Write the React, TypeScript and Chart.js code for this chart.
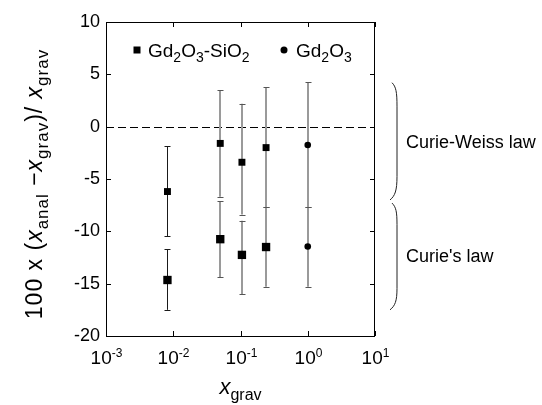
import React, { useEffect, useRef } from 'react';
import { Chart, registerables } from 'chart.js';

Chart.register(...registerables);

const FONT = '"Liberation Sans", Arial, Helvetica, sans-serif';

// ---- data ----
const siO2X = [0.0082, 0.05, 0.105, 0.24];
const siO2CurieWeiss = [-6.2, -1.6, -3.4, -2.0];
const siO2CurieWeissHigh = [-1.85, 3.5, 2.2, 3.8];
const siO2CurieWeissLow = [-10.45, -6.7, -8.4, -7.7];
const siO2Curie = [-14.65, -10.75, -12.25, -11.5];
const siO2CurieHigh = [-11.7, -7.1, -9.0, -7.7];
const siO2CurieLow = [-17.5, -14.4, -16.0, -15.3];

const gdX = [1.0];
const gdCurieWeiss = [-1.75];
const gdCurieWeissHigh = [4.25];
const gdCurieWeissLow = [-7.7];
const gdCurie = [-11.45];
const gdCurieHigh = [-7.7];
const gdCurieLow = [-15.3];

const xTickExponents = [-3, -2, -1, 0, 1];
const yTickValues = [-20, -15, -10, -5, 0, 5, 10];

// brace ranges on the y axis (data units) and their labels
const braceRanges = [
  [4.2, -7.0],
  [-7.3, -17.5],
];
const braceLabels = ['Curie-Weiss law', "Curie's law"];
const braceLabelY = [-1.6, -12.5];

const toPoints = (xs: number[], ys: number[]) => xs.map((x, i) => ({ x, y: ys[i] }));

type Seg = { t: string; k: 'n' | 'i' | 'sub' };

function drawSegs(ctx: CanvasRenderingContext2D, segs: Seg[], x: number, y: number, main: number, sub: number, subDy: number, align: 'left' | 'center') {
  const fontOf = (k: Seg['k']) =>
    k === 'i' ? `italic ${main}px ${FONT}` : k === 'sub' ? `${sub}px ${FONT}` : `${main}px ${FONT}`;
  let total = 0;
  const widths = segs.map((s) => {
    ctx.font = fontOf(s.k);
    const w = ctx.measureText(s.t).width;
    total += w;
    return w;
  });
  let cx = align === 'center' ? x - total / 2 : x;
  ctx.textAlign = 'left';
  ctx.textBaseline = 'alphabetic';
  segs.forEach((s, i) => {
    ctx.font = fontOf(s.k);
    ctx.fillText(s.t, cx, s.k === 'sub' ? y + subDy : y);
    cx += widths[i];
  });
  return total;
}

const decorPlugin = {
  id: 'decor',
  beforeDatasetsDraw(chart: any) {
    const { ctx, chartArea } = chart;
    const xs = chart.scales.x;
    const ys = chart.scales.y;
    ctx.save();
    // dashed zero line
    const y0 = Math.round(ys.getPixelForValue(0)) + 0.5;
    ctx.strokeStyle = '#000';
    ctx.lineWidth = 1;
    ctx.setLineDash([8, 4]);
    ctx.beginPath();
    ctx.moveTo(chartArea.left, y0);
    ctx.lineTo(chartArea.right, y0);
    ctx.stroke();
    ctx.setLineDash([]);
    // error bars
    chart.data.datasets.forEach((ds: any) => {
      ds.data.forEach((p: any, i: number) => {
        const px = Math.round(xs.getPixelForValue(p.x));
        const yh = ys.getPixelForValue(ds.errHigh[i]);
        const yl = ys.getPixelForValue(ds.errLow[i]);
        const dark = ds.darkFirst && i === 0;
        ctx.strokeStyle = dark ? '#1a1a1a' : '#9a9a9a';
        ctx.lineWidth = dark ? 1 : 2;
        const lx = dark ? px + 0.5 : px;
        ctx.beginPath();
        ctx.moveTo(lx, yh);
        ctx.lineTo(lx, yl);
        ctx.stroke();
        ctx.strokeStyle = dark ? '#1a1a1a' : '#555';
        ctx.lineWidth = 1;
        [yh, yl].forEach((yy) => {
          const y = Math.round(yy) + 0.5;
          ctx.beginPath();
          ctx.moveTo(px - 2.5, y);
          ctx.lineTo(px + 3.5, y);
          ctx.stroke();
        });
      });
    });
    ctx.restore();
  },
  afterDraw(chart: any) {
    const { ctx, chartArea } = chart;
    const xs = chart.scales.x;
    const ys = chart.scales.y;
    const L = chartArea.left, R = chartArea.right, T = chartArea.top, B = chartArea.bottom;
    ctx.save();
    ctx.fillStyle = '#000';
    ctx.strokeStyle = '#000';
    ctx.lineWidth = 1;
    // frame
    ctx.strokeRect(Math.round(L) + 0.5, Math.round(T) + 0.5, Math.round(R - L) - 1, Math.round(B - T));
    // y ticks (inward, both sides)
    yTickValues.forEach((v) => {
      const y = Math.round(ys.getPixelForValue(v)) + 0.5;
      ctx.beginPath();
      ctx.moveTo(L, y);
      ctx.lineTo(L + 5, y);
      ctx.moveTo(R - 5, y);
      ctx.lineTo(R, y);
      ctx.stroke();
    });
    // x ticks + labels
    xTickExponents.forEach((e) => {
      const x = Math.round(xs.getPixelForValue(Math.pow(10, e))) + 0.5;
      ctx.beginPath();
      ctx.moveTo(x, T);
      ctx.lineTo(x, T + 5);
      ctx.moveTo(x, B - 5);
      ctx.lineTo(x, B);
      ctx.stroke();
      ctx.font = `19px ${FONT}`;
      const wb = ctx.measureText('10').width;
      ctx.font = `12px ${FONT}`;
      const sup = String(e);
      const ws = ctx.measureText(sup).width;
      const sx = x - (wb + ws) / 2;
      ctx.textAlign = 'left';
      ctx.textBaseline = 'alphabetic';
      ctx.font = `19px ${FONT}`;
      ctx.fillText('10', sx, 364);
      ctx.font = `12px ${FONT}`;
      ctx.fillText(sup, sx + wb, 357);
    });
    // x title
    drawSegs(ctx, [{ t: 'x', k: 'i' }, { t: 'grav', k: 'sub' }], (L + R) / 2, 394, 22, 16, 6, 'center');
    // y title (rotated)
    ctx.save();
    ctx.translate(42, 184);
    ctx.rotate(-Math.PI / 2);
    (ctx as any).letterSpacing = '1px';
    drawSegs(
      ctx,
      [
        { t: '100 x (', k: 'n' },
        { t: 'x', k: 'i' },
        { t: 'anal', k: 'sub' },
        { t: ' \u2212', k: 'n' },
        { t: 'x', k: 'i' },
        { t: 'grav', k: 'sub' },
        { t: ')/ ', k: 'n' },
        { t: 'x', k: 'i' },
        { t: 'grav', k: 'sub' },
      ],
      0,
      0,
      23,
      17,
      6,
      'center'
    );
    (ctx as any).letterSpacing = '0px';
    ctx.restore();
    // legend
    const ly = 50;
    ctx.fillStyle = '#000';
    ctx.fillRect(133.5, ly - 3.5, 7, 7);
    drawSegs(
      ctx,
      [
        { t: 'Gd', k: 'n' },
        { t: '2', k: 'sub' },
        { t: 'O', k: 'n' },
        { t: '3', k: 'sub' },
        { t: '-SiO', k: 'n' },
        { t: '2', k: 'sub' },
      ],
      148,
      57,
      19,
      14,
      5,
      'left'
    );
    ctx.beginPath();
    ctx.arc(284, ly, 3.5, 0, Math.PI * 2);
    ctx.fill();
    drawSegs(
      ctx,
      [
        { t: 'Gd', k: 'n' },
        { t: '2', k: 'sub' },
        { t: 'O', k: 'n' },
        { t: '3', k: 'sub' },
      ],
      296,
      57,
      19,
      14,
      5,
      'left'
    );
    // braces
    ctx.strokeStyle = '#222';
    ctx.lineWidth = 1;
    braceRanges.forEach(([a, b], i) => {
      const yt = ys.getPixelForValue(a);
      const yb = ys.getPixelForValue(b);
      const xe = R + 16;
      const xm = R + 22;
      const h = yb - yt;
      ctx.beginPath();
      ctx.moveTo(xe + 1, yt);
      ctx.bezierCurveTo(xe + 5, yt + 4, xm, yt + h * 0.08, xm, yt + h * 0.2);
      ctx.lineTo(xm, yt + h * 0.8);
      ctx.bezierCurveTo(xm, yb - h * 0.08, xe + 4, yb - 4, xe - 1, yb);
      ctx.stroke();
      ctx.font = `18px ${FONT}`;
      ctx.textAlign = 'left';
      ctx.textBaseline = 'middle';
      ctx.fillStyle = '#000';
      ctx.fillText(braceLabels[i], R + 31, ys.getPixelForValue(braceLabelY[i]));
    });
    ctx.restore();
  },
};

export default function App() {
  const ref = useRef<HTMLCanvasElement | null>(null);
  useEffect(() => {
    if (!ref.current) return;
    const chart = new Chart(ref.current, {
      type: 'scatter',
      data: {
        datasets: [
          {
            label: 'Gd2O3-SiO2',
            data: toPoints(siO2X, siO2CurieWeiss),
            errHigh: siO2CurieWeissHigh,
            errLow: siO2CurieWeissLow,
            darkFirst: true,
            pointStyle: 'rect',
            pointRadius: 4.9,
            backgroundColor: '#000',
            borderColor: '#000',
            borderWidth: 0,
          } as any,
          {
            label: 'Gd2O3-SiO2',
            data: toPoints(siO2X, siO2Curie),
            errHigh: siO2CurieHigh,
            errLow: siO2CurieLow,
            darkFirst: true,
            pointStyle: 'rect',
            pointRadius: 5.9,
            backgroundColor: '#000',
            borderColor: '#000',
            borderWidth: 0,
          } as any,
          {
            label: 'Gd2O3',
            data: toPoints(gdX, gdCurieWeiss),
            errHigh: gdCurieWeissHigh,
            errLow: gdCurieWeissLow,
            pointStyle: 'circle',
            pointRadius: 3.3,
            backgroundColor: '#000',
            borderColor: '#000',
            borderWidth: 0,
          } as any,
          {
            label: 'Gd2O3',
            data: toPoints(gdX, gdCurie),
            errHigh: gdCurieHigh,
            errLow: gdCurieLow,
            pointStyle: 'circle',
            pointRadius: 3.3,
            backgroundColor: '#000',
            borderColor: '#000',
            borderWidth: 0,
          } as any,
        ],
      },
      options: {
        animation: false,
        responsive: false,
        maintainAspectRatio: false,
        layout: { padding: { left: 0, top: 22, right: 167, bottom: 0 } },
        plugins: { legend: { display: false }, tooltip: { enabled: false } },
        scales: {
          x: {
            type: 'logarithmic',
            min: 0.001,
            max: 10,
            grid: { display: false, drawTicks: false },
            border: { display: false },
            ticks: { display: false },
            afterFit: (s: any) => {
              s.height = 69;
            },
          },
          y: {
            type: 'linear',
            min: -20,
            max: 10,
            grid: { display: false, drawTicks: false },
            border: { display: false },
            ticks: {
              stepSize: 5,
              padding: 6,
              color: '#000',
              font: { family: FONT, size: 18 },
              callback: (v: any) => String(v),
            },
            afterFit: (s: any) => {
              s.width = 106;
            },
          },
        },
      },
      plugins: [decorPlugin],
    });
    return () => chart.destroy();
  }, []);
  return (
    <div style={{ position: 'absolute', left: 0, top: 0, width: 542, height: 405, background: '#fff' }}>
      <canvas ref={ref} width={542} height={405} />
    </div>
  );
}
